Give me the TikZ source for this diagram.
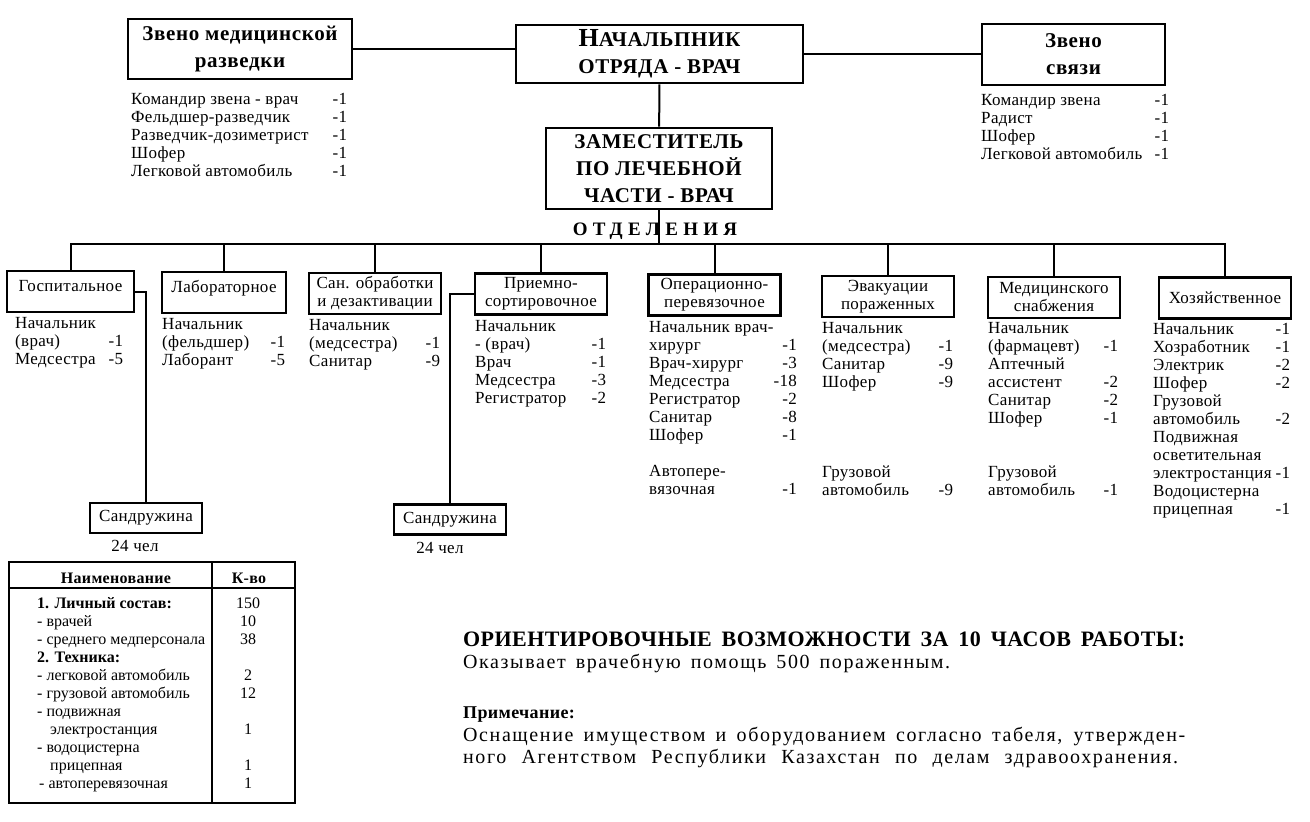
\documentclass[tikz,border=0pt]{standalone}
\usepackage{fontspec}
\setmainfont{Liberation Serif}
\newfontfamily\spaced{Liberation Serif}[LetterSpace=2]
\newfontfamily\headfont{Liberation Serif}[LetterSpace=3]
\newfontfamily\sparse{Liberation Serif}[LetterSpace=28]
\newfontfamily\notefont{Liberation Serif}[LetterSpace=8]
\usetikzlibrary{calc}
\newcommand{\roster}[2]{\begin{tabular*}{#1}[t]{@{}l@{\extracolsep{\fill}}r@{}}#2\end{tabular*}}
\tikzset{
	%	head/.style={draw,thick,align=center},
	head/.style={draw, line width=2.6pt, align=center, inner sep=0pt, font=\headfont\bfseries\fontsize{21}{27}\selectfont},
	dept/.style={draw, line width=2.3pt, align=center, inner sep=0pt, minimum width=132pt, minimum height=41pt, font=\spaced\fontsize{17}{18}\selectfont},
	squad/.style={draw, line width=2.3pt, inner sep=0pt, minimum width=112pt, minimum height=30pt, font=\spaced\fontsize{17}{18}\selectfont},
	staff/.style={anchor=base west, inner sep=0pt, font=\spaced\fontsize{17}{18}\selectfont},
	tabtext/.style={inner sep=0pt, font=\fontsize{16}{18}\selectfont},
	notetext/.style={anchor=base west, inner sep=0pt, font=\notefont\fontsize{20}{22}\selectfont},
	link/.style={line width=2pt}
}

\begin{document}
\begin{tikzpicture}[x=1pt,y=-1pt]
	\useasboundingbox (0,0) rectangle (1310,822);
	
	\node[head, minimum width=287pt, minimum height=58pt] (chief) at (659.5,54) {{\fontsize{26}{27}\selectfont Н}АЧАЛЬПНИК\\ОТРЯДА - ВРАЧ};
	\node[head, minimum width=224pt, minimum height=60pt] (recon) at (240,49) {Звено медицинской\\разведки};
	\node[head, minimum width=183pt, minimum height=61pt] (comm) at (1073.5,54.5) {Звено\\связи};
	\node[head, minimum width=226pt, minimum height=81pt] (deputy) at (659,168.5) {ЗАМЕСТИТЕЛЬ\\ПО ЛЕЧЕБНОЙ\\ЧАСТИ - ВРАЧ};
	\node[font=\sparse\bfseries\fontsize{19}{20}\selectfont] (otd) at (655,231) {ОТДЕЛЕНИЯ};
	
	\node[staff] (reconlist) at (131,104) {\roster{216pt}{Командир звена - врач & -1\\ Фельдшер-разведчик & -1\\ Разведчик-дозиметрист & -1\\ Шофер & -1\\ Легковой автомобиль & -1}};
	\node[staff] (commlist) at (981,105) {\roster{188pt}{Командир звена & -1\\ Радист & -1\\ Шофер & -1\\ Легковой автомобиль & -1}};
	
	\node[dept, minimum width=127pt] (hosp) at (70.5,291.5) {\raisebox{12pt}{Госпитальное}};
	\node[dept, minimum width=124pt] (lab) at (224,292.5) {\raisebox{12pt}{Лабораторное}};
	\node[dept] (sanit) at (375,293.5) {Сан. обработки\\и дезактивации};
	\node[dept] (triage) at (541,294) {Приемно-\\сортировочное};
	\node[dept] (surg) at (714.5,295) {Операционно-\\перевязочное};
	\node[dept] (evac) at (888,296.5) {Эвакуации\\пораженных};
	\node[dept] (supply) at (1054,297.5) {Медицинского\\снабжения};
	\node[dept] (house) at (1225,298) {Хозяйственное};
	
	\node[staff] (hosplist) at (15,328) {\roster{108pt}{Начальник & \\ (врач) & -1\\ Медсестра & -5}};
	\node[staff] (lablist) at (162,329) {\roster{123pt}{Начальник & \\ (фельдшер) & -1\\ Лаборант & -5}};
	\node[staff] (sanitlist) at (309,330) {\roster{131pt}{Начальник & \\ (медсестра) & -1\\ Санитар & -9}};
	\node[staff] (triagelist) at (475,331) {\roster{131pt}{Начальник & \\ - (врач) & -1\\ Врач & -1\\ Медсестра & -3\\ Регистратор & -2}};
	\node[staff] (surglist) at (649,332) {\roster{130pt}{Начальник врач- & \\ хирург & -1\\ Врач-хирург & -3\\ Медсестра & -18\\ Регистратор & -2\\ Санитар & -8\\ Шофер & -1\\ & \\ Автопере- & \\ вязочная & -1}};
	\node[staff] (evaclist) at (822,333) {\roster{131pt}{Начальник & \\ (медсестра) & -1\\ Санитар & -9\\ Шофер & -9\\ & \\ & \\ & \\ & \\ Грузовой & \\ автомобиль & -9}};
	\node[staff] (supplylist) at (988,333) {\roster{130pt}{Начальник & \\ (фармацевт) & -1\\ Аптечный & \\ ассистент & -2\\ Санитар & -2\\ Шофер & -1\\ & \\ & \\ Грузовой & \\ автомобиль & -1}};
	\node[staff] (houselist) at (1153,334) {\roster{137pt}{Начальник & -1\\ Хозработник & -1\\ Электрик & -2\\ Шофер & -2\\ Грузовой & \\ автомобиль & -2\\ Подвижная & \\ осветительная & \\ электростанция & -1\\ Водоцистерна & \\ прицепная & -1}};
	
	\node[squad] (squad1) at (146,518) {Сандружина};
	\node[squad] (squad2) at (450,519.5) {Сандружина};
	\node[staff, anchor=base] (squad1n) at (135,551) {24 чел};
	\node[staff, anchor=base] (squad2n) at (440,553) {24 чел};
	
	\coordinate (bus) at (659,244);
	\draw[link] (recon.east) -- (recon.east -| chief.west);
	\draw[link] (chief.east) -- (chief.east -| comm.west);
	\draw[link] (chief) -- (deputy);
	\draw[link] (deputy) -- (deputy |- bus);
	\draw[link] (hosp) |- (bus) -| (house);
	\foreach \d in {lab,sanit,triage,surg,evac,supply}
		\draw[link] (\d) -- (\d |- bus);
	\draw[link] (hosp.east) -| (squad1);
	\draw[link] (triage.west) -| (squad2);
	
	% table
	\draw[line width=2.4pt] (9,562) rectangle (295,803);
	\draw[line width=1.4pt] (9,588) -- (295,588);
	\draw[line width=1.6pt] (212,562) -- (212,803);
	\node[tabtext, font=\spaced\bfseries\fontsize{16}{18}\selectfont] (hname) at (116,578) {Наименование};
	\node[tabtext, font=\spaced\bfseries\fontsize{16}{18}\selectfont] (hqty) at (249,578) {К-во};
	\node[tabtext, anchor=base west] (names) at (37,608) {\begin{tabular}[t]{@{}l@{}}
		\textbf{1. Личный состав:}\\
		- врачей\\
		- среднего медперсонала\\
		\textbf{2. Техника:}\\
		- легковой автомобиль\\
		- грузовой автомобиль\\
		- подвижная\\
		\hspace{13pt}электростанция\\
		- водоцистерна\\
		\hspace{13pt}прицепная\\
		\hspace{2pt}- автоперевязочная
	\end{tabular}};
	\node[tabtext, anchor=base] (qty) at (248,608) {\begin{tabular}[t]{@{}c@{}}
		150\\ 10\\ 38\\ \\ 2\\ 12\\ \\ 1\\ \\ 1\\ 1
	\end{tabular}};
	
	% note
	\node[anchor=base west, inner sep=0pt, font=\spaced\bfseries\fontsize{22}{22}\selectfont] (cap) at (463,646) {\makebox[722pt][s]{ОРИЕНТИРОВОЧНЫЕ ВОЗМОЖНОСТИ ЗА 10 ЧАСОВ РАБОТЫ:}};
	\node[notetext] (capline) at (463,668) {\makebox[487pt][s]{Оказывает врачебную помощь 500 пораженным.}};
	\node[notetext, font=\spaced\bfseries\fontsize{18}{22}\selectfont] (rem) at (463,718) {Примечание:};
	\node[notetext] (remline1) at (463,741) {\makebox[722pt][s]{Оснащение имуществом и оборудованием согласно табеля, утвержден-}};
	\node[notetext] (remline2) at (463,763) {\makebox[715pt][s]{ного Агентством Республики Казахстан по делам здравоохранения.}};
\end{tikzpicture}
\end{document}
